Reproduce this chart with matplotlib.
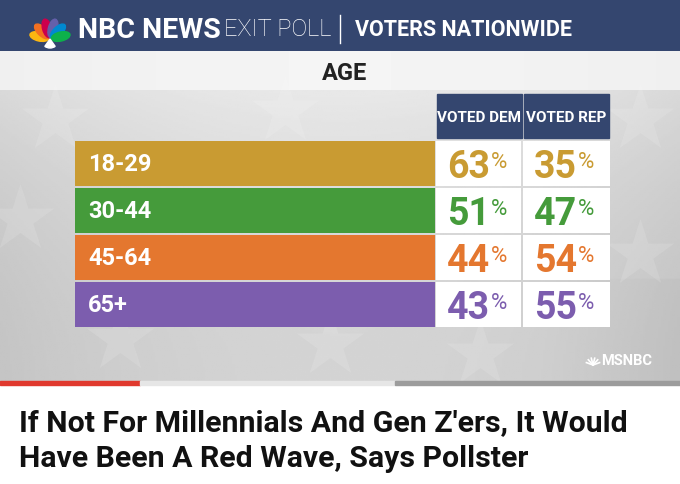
import numpy as np
import matplotlib.pyplot as plt
from matplotlib.patches import Rectangle, Ellipse, Wedge

# exit poll by age
ages = ["18-29", "30-44", "45-64", "65+"]
voted_dem = [63, 51, 44, 43]
voted_rep = [35, 47, 54, 55]
row_colors = ["#C99B32", "#459B3B", "#E4772F", "#7C5DAE"]
columns = ["VOTED DEM", "VOTED REP"]

title_left = "NBC NEWS"
title_mid = "EXIT POLL"
title_right = "VOTERS NATIONWIDE"
section = "AGE"
headline = "If Not For Millennials And Gen Z'ers, It Would\nHave Been A Red Wave, Says Pollster"

navy = "#34466F"
cond = dict(family="Roboto")

fig = plt.figure(figsize=(6.8, 4.85), dpi=100)
ax = fig.add_axes([0, 0, 1, 1])
ax.set_xlim(0, 680)
ax.set_ylim(485, 0)
ax.axis("off")

# backgrounds
ax.add_patch(Rectangle((0, 0), 680, 52, color=navy, zorder=1))
band = np.linspace(0, 1, 200)[None, :]
band = 0.96 - 0.04 * np.abs(band - 0.5)
ax.imshow(band, cmap="gray", vmin=0, vmax=1, extent=(0, 680, 91, 52),
          aspect="auto", zorder=1)
gx = np.linspace(-1, 1, 300)[None, :]
gy = np.linspace(-1, 1, 150)[:, None]
grad = 0.85 - 0.06 * gx ** 2 - 0.04 * gy + 0.02 * gy ** 2 - 0.05 * np.clip(gx - 0.6, 0, 1) * (gy > 0.3)
ax.imshow(grad, cmap="gray", vmin=0, vmax=1, extent=(0, 680, 383, 91),
          aspect="auto", zorder=1)
# faint stars in the backdrop
stars_x = [55, 285, 640, 20, 330, 120, 480, 640]
stars_y = [120, 112, 255, 220, 345, 340, 355, 120]
ax.scatter(stars_x, stars_y, s=2600, marker="*", color="white", alpha=0.12,
           linewidths=0, zorder=2)
ax.add_patch(Rectangle((0, 382), 140, 4, color="#E0392E", zorder=2))
ax.add_patch(Rectangle((140, 382), 255, 4, color="#E6E6E6", zorder=2))
ax.add_patch(Rectangle((395, 382), 285, 4, color="#9C9C9C", zorder=2))

# peacock logo
feathers = ["#FCB711", "#F37021", "#CC004C", "#6460AA", "#0089D0", "#0DB14B"]
bx, by = 50, 40
for k, fc in enumerate(feathers):
    ang = np.deg2rad(167 - k * 30.8)
    cx, cy = bx + 11 * np.cos(ang), by - 11 * np.sin(ang)
    ax.add_patch(Ellipse((cx, cy), 19, 9, angle=-np.rad2deg(ang), color=fc, zorder=3))
ax.add_patch(Wedge((bx, by), 9, 55, 125, color="white", zorder=4))

ax.text(78, 30, title_left, color="white", fontsize=20.5, weight="bold", va="center",
        zorder=5, **cond)
ax.text(224, 30, title_mid, color="white", fontsize=17, weight="light", va="center",
        zorder=5, **cond)
ax.plot([340, 340], [16, 44], color="white", lw=1, zorder=5)
ax.text(355, 30, title_right, color="white", fontsize=15.5, weight="bold", va="center",
        zorder=5, **cond)
ax.text(345, 73, section, color="#222222", fontsize=17, weight="bold", ha="center",
        va="center", zorder=5, **cond)

# table
n = len(ages)
row_y = 164 + 47 * np.arange(n)
ax.barh(row_y, [360] * n, left=75, height=45, color=row_colors, zorder=3)
ax.barh(row_y, [85] * n, left=436, height=45, color="white", zorder=3)
ax.barh(row_y, [87] * n, left=523, height=45, color="white", zorder=3)
col_x = [479, 566]
for cx, name in zip(col_x, columns):
    ax.add_patch(Rectangle((cx - 42.5, 95), 85, 44, color=navy, zorder=3))
    ax.text(cx, 118, name, color="white", fontsize=11, weight="bold", ha="center",
            va="center", zorder=5, **cond)

for i in range(n):
    ax.text(88, row_y[i] + 1, ages[i], color="white", fontsize=17, weight="bold",
            va="center", zorder=5, **cond)
    for cx, v in zip(col_x, [voted_dem[i], voted_rep[i]]):
        ax.text(cx + 11, row_y[i] + 14, str(v), color=row_colors[i], fontsize=27,
                weight="bold", ha="right", va="baseline", zorder=5, **cond)
        ax.text(cx + 12, row_y[i] + 4, "%", color=row_colors[i], fontsize=16,
                ha="left", va="baseline", zorder=5, **cond)

# msnbc bug
ax.text(652, 361, "MSNBC", color="white", fontsize=10.5, weight="bold", ha="right",
        va="center", zorder=5, **cond)
for k, fc in enumerate(feathers):
    ang = np.deg2rad(160 - k * 28)
    ax.plot([593, 593 + 7 * np.cos(ang)], [366, 366 - 7 * np.sin(ang)], color="white",
            lw=1.2, zorder=5)

ax.text(19, 441, headline, color="#111111", fontsize=21.8, weight="bold",
        family="Roboto", va="center", linespacing=1.35, zorder=5)

fig.savefig("out.png", dpi=100)
